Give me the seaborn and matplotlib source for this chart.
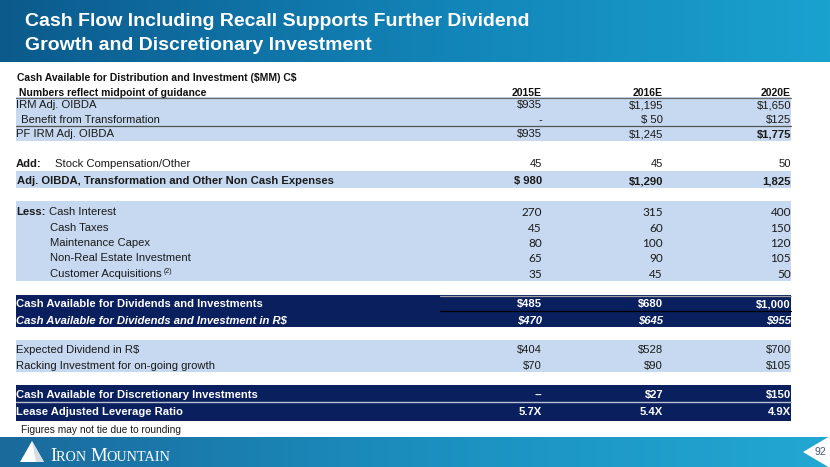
import numpy as np
import pandas as pd
import matplotlib
matplotlib.use("Agg")
import matplotlib.pyplot as plt
import seaborn as sns
from matplotlib import font_manager
from matplotlib.colors import LinearSegmentedColormap

# ---- slide content ----
title_lines = ["Cash Flow Including Recall Supports Further Dividend",
               "Growth and Discretionary Investment"]
caption = "Cash Available for Distribution and Investment ($MM) C$"
subcaption = " Numbers reflect midpoint of guidance"
years = ["2015E", "2016E", "2020E"]

labels = ["IRM Adj. OIBDA", " Benefit from Transformation", "PF IRM Adj. OIBDA",
          "Stock Compensation/Other",
          "Adj. OIBDA, Transformation and Other Non Cash Expenses",
          "Cash Interest", "Cash Taxes", "Maintenance Capex",
          "Non-Real Estate Investment", "Customer Acquisitions",
          "Cash Available for Dividends and Investments",
          "Cash Available for Dividends and Investment in R$",
          "Expected Dividend in R$", "Racking Investment for on-going growth",
          "Cash Available for Discretionary Investments",
          "Lease Adjusted Leverage Ratio"]
vals_2015 = ["$935", "-", "$935", "45", "$ 980", "270", "45", "80", "65", "35",
             "$485", "$470", "$404", "$70", "--", "5.7X"]
vals_2016 = ["$1,195", "$ 50", "$1,245", "45", "$1,290", "315", "60", "100", "90", "45",
             "$680", "$645", "$528", "$90", "$27", "5.4X"]
vals_2020 = ["$1,650", "$125", "$1,775", "50", "1,825", "400", "150", "120", "105", "50",
             "$1,000", "$955", "$700", "$105", "$150", "4.9X"]
prefixes = {3: "Add:", 5: "Less:"}
notes = {9: "(2)"}
footnote = "Figures may not tie due to rounding"
page_no = "92"
company = ["I", "RON ", "M", "OUNTAIN"]

df = pd.DataFrame({"label": labels, years[0]: vals_2015,
                   years[1]: vals_2016, years[2]: vals_2020})

# ---- layout (pixels of the 830x467 slide) ----
row_y = [104, 119, 133, 163, 180, 211, 227, 242, 257, 273, 303, 319, 349, 365, 394, 411]
label_x = [16, 18, 16, 55, 17, None, 50, 50, 50, 50, 16, 16, 16, 16, 16, 16]
col_x = [542, 663, 791]
bold_rows = [4, 10, 11, 14, 15]
italic_rows = [11]
white_rows = [10, 11, 14, 15]
calibri_rows = [5, 6, 7, 8, 9]
light = "#c6d9f0"
navy = "#0a1f5e"
bands = [(97, 141, light), (171, 188, light), (201, 281, light),
         (295, 327, navy), (340, 372, light), (385, 421, navy)]
dy = 1.2  # glyph centre vs text box centre

sns.set_theme(style="white")
plt.rcParams["font.family"] = ["Liberation Sans", "DejaVu Sans"]
plt.rcParams["text.parse_math"] = False
installed = {f.name for f in font_manager.fontManager.ttflist}
title_font = "Liberation Sans Narrow" if "Liberation Sans Narrow" in installed else "Liberation Sans"
num_font = "Lato" if "Lato" in installed else "Liberation Sans"

fig = plt.figure(figsize=(8.3, 4.67), dpi=100)
ax = fig.add_axes([0, 0, 1, 1])
renderer = fig.canvas.get_renderer()


def right_edge(t):
    bb = t.get_window_extent(renderer)
    return ax.transData.inverted().transform((bb.x1, bb.y0))[0]


# header and footer gradients
head_cmap = LinearSegmentedColormap.from_list("head", sns.blend_palette(["#0c5a8c", "#1282b6", "#1aa2cf"], 8))
foot_cmap = LinearSegmentedColormap.from_list("foot", sns.blend_palette(["#1a6a9c", "#1b8fbf", "#22a8d2"], 8))
grad = np.linspace(0, 1, 256)[None, :]
ax.imshow(grad, extent=[0, 830, 62, 0], cmap=head_cmap, aspect="auto", zorder=0)
ax.imshow(grad, extent=[0, 830, 467, 437], cmap=foot_cmap, aspect="auto", zorder=0)

ax.set_xlim(0, 830)
ax.set_ylim(467, 0)
ax.axis("off")

# title
title_size = 14 if title_font == "Liberation Sans" else 16
for i, line in enumerate(title_lines):
    ax.text(25, [21, 46][i], line, color="white", fontweight="bold",
            fontsize=title_size, family=[title_font, "DejaVu Sans"], va="center", ha="left")

# row bands and rules
for y0, y1, c in bands:
    ax.fill_between([16, 791], y0, y1, color=c, lw=0, zorder=1)
ax.plot([16, 791], [97.5, 97.5], color="#6b6b6b", lw=0.9, zorder=2)
ax.plot([16, 791], [126, 126], color="#555555", lw=0.9, zorder=2)
ax.plot([440, 791], [295.5, 295.5], color="#a0a0a0", lw=0.9, zorder=2)
ax.plot([440, 791], [311, 311], color="#000000", lw=0.9, zorder=2)
ax.plot([16, 791], [401.5, 401.5], color="#b9c0cf", lw=1.0, zorder=2)

# table heading
ax.text(17, 77 + dy, caption, fontsize=7.5, fontweight="bold", color="#111111", va="center", zorder=3)
ax.text(16, 92 + dy, subcaption, fontsize=7.5, fontweight="bold", color="#111111", va="center", zorder=3)
for j, yr in enumerate(years):
    ax.text(col_x[j], 92 + dy, yr, fontsize=7.5, fontweight="bold", color="#111111",
            va="center", ha="right", zorder=3)

# table body
for i, row in df.iterrows():
    y = row_y[i] + dy
    col = "white" if i in white_rows else "#1a1a1a"
    wt = "bold" if i in bold_rows else "normal"
    st = "italic" if i in italic_rows else "normal"
    lx = label_x[i]
    if i in prefixes:
        p = ax.text(16, y, prefixes[i], fontsize=8.1, fontweight="bold", color=col, va="center", zorder=3)
        if lx is None:
            lx = right_edge(p) + 3
    t = ax.text(lx, y, row["label"], fontsize=8.1, fontweight=wt, fontstyle=st,
                color=col, va="center", zorder=3)
    if i in notes:
        ax.text(right_edge(t) + 2, y - 3, notes[i], fontsize=5, color=col, va="center", zorder=3)
    fam = [num_font, "DejaVu Sans"] if i in calibri_rows else ["Liberation Sans", "DejaVu Sans"]
    for j, yr in enumerate(years):
        w_j = "bold" if (i in bold_rows or (i == 2 and j == 2)) else "normal"
        ax.text(col_x[j], y, row[yr], fontsize=8.5 if i in calibri_rows else 8.1,
                fontweight=w_j, fontstyle=st, color=col, family=fam,
                va="center", ha="right", zorder=3)

ax.text(21, 429 + dy, footnote, fontsize=7.3, color="#1a1a1a", va="center", zorder=3)

# footer: logo and page number
ax.fill([20, 32, 44], [462, 441, 462], color="white", lw=0, zorder=3)
ax.fill([32, 36, 44], [441, 462, 462], color="#d5dde6", lw=0, zorder=3)
x = 50
for k, piece in enumerate(company):
    t = ax.text(x, 461, piece, fontsize=13.5 if k % 2 == 0 else 10.3, color="white",
                family=["Liberation Serif", "DejaVu Serif"], va="baseline", ha="left", zorder=3)
    x = right_edge(t)
ax.fill([803, 830, 830], [452, 436, 468], color="white", lw=0, zorder=3)
ax.text(820, 452, page_no, fontsize=7.5, color="#3d5a78", va="center", ha="center", zorder=4)

fig.savefig("out.png", dpi=100)
